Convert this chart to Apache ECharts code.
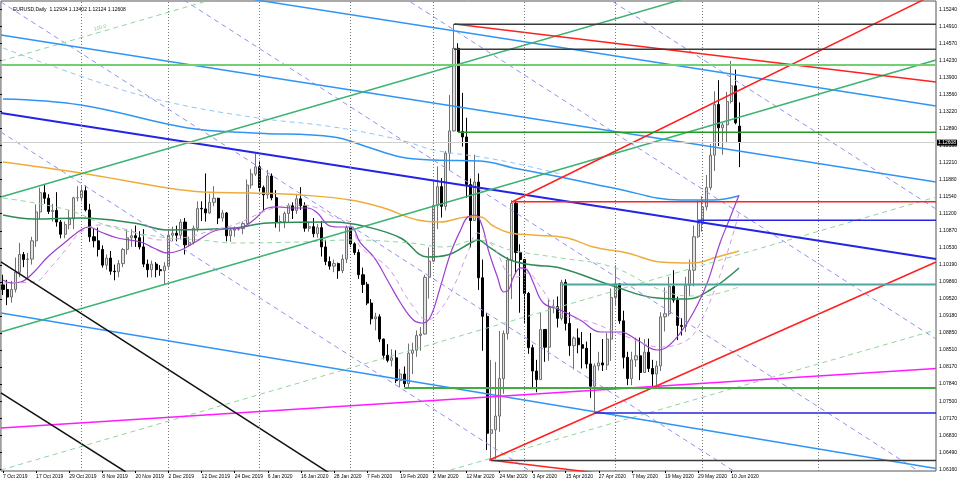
<!DOCTYPE html>
<html><head><meta charset="utf-8">
<script src="https://cdn.jsdelivr.net/npm/echarts@6/dist/echarts.min.js"></script>
<style>html,body{margin:0;padding:0;background:#fff}#c{width:960px;height:482px}</style>
</head><body><div id="c"></div>
<script>
// ---------- data ----------
const titleText = 'EURUSD,Daily  1.12934 1.13402 1.12124 1.12608';
const dateTicks = ['7 Oct 2019','17 Oct 2019','29 Oct 2019','8 Nov 2019','20 Nov 2019','2 Dec 2019','12 Dec 2019','24 Dec 2019','6 Jan 2020','16 Jan 2020','28 Jan 2020','7 Feb 2020','19 Feb 2020','2 Mar 2020','12 Mar 2020','24 Mar 2020','3 Apr 2020','15 Apr 2020','27 Apr 2020','7 May 2020','19 May 2020','29 May 2020','10 Jun 2020'];
const priceTicks = ['1.06160','1.06490','1.06830','1.07170','1.07500','1.07840','1.08170','1.08510','1.08850','1.09180','1.09520','1.09860','1.10190','1.10530','1.10870','1.11200','1.11540','1.11880','1.12210','1.12550','1.12890','1.13220','1.13560','1.13900','1.14230','1.14570','1.14910','1.15240'];
const lastPrice = 1.12608;
// [open, high, low, close] per daily bar
const ohlc = [
[1.0980,1.1000,1.0960,1.0971],[1.0971,1.0990,1.0940,1.0956],[1.0956,1.0988,1.0945,1.0971],[1.0971,1.1034,1.0965,1.1005],[1.1005,1.1063,1.0995,1.1040],
[1.1040,1.1045,1.1015,1.1030],[1.1030,1.1043,1.0992,1.1031],[1.1031,1.1075,1.1020,1.1067],[1.1067,1.1139,1.1055,1.1124],[1.1124,1.1172,1.1110,1.1162],
[1.1162,1.1179,1.1140,1.1151],[1.1151,1.1159,1.1120,1.1125],[1.1125,1.1140,1.1105,1.1127],[1.1127,1.1163,1.1095,1.1104],[1.1104,1.1108,1.1072,1.1080],
[1.1080,1.1105,1.1072,1.1099],[1.1099,1.1128,1.1090,1.1110],[1.1110,1.1154,1.1090,1.1152],[1.1152,1.1175,1.1145,1.1152],[1.1152,1.1175,1.1145,1.1166],
[1.1166,1.1176,1.1125,1.1128],[1.1128,1.1140,1.1065,1.1075],[1.1075,1.1092,1.1054,1.1067],[1.1067,1.1093,1.1036,1.1050],[1.1050,1.1058,1.1014,1.1019],
[1.1019,1.1040,1.1010,1.1033],[1.1033,1.1047,1.1000,1.1007],[1.1007,1.1020,1.0989,1.1006],[1.1006,1.1029,1.0995,1.1022],[1.1022,1.1053,1.1015,1.1050],
[1.1050,1.1090,1.1040,1.1073],[1.1073,1.1090,1.1055,1.1077],[1.1077,1.1097,1.1055,1.1073],[1.1073,1.1086,1.1050,1.1055],[1.1055,1.1090,1.1015,1.1021],
[1.1021,1.1030,1.0995,1.1010],[1.1010,1.1028,1.0995,1.1021],[1.1021,1.1025,1.0995,1.1010],[1.1010,1.1019,1.0998,1.1008],[1.1008,1.1025,1.0981,1.1017],
[1.1017,1.1090,1.1012,1.1078],[1.1078,1.1095,1.1066,1.1082],[1.1082,1.1097,1.1066,1.1078],[1.1078,1.1110,1.1070,1.1104],[1.1104,1.1112,1.1040,1.1059],
[1.1059,1.1075,1.1055,1.1064],[1.1064,1.1097,1.1060,1.1092],[1.1092,1.1145,1.1085,1.1131],[1.1131,1.1145,1.1106,1.1130],[1.1130,1.1200,1.1105,1.1122],
[1.1122,1.1160,1.1120,1.1143],[1.1143,1.1175,1.1135,1.1151],[1.1151,1.1152,1.1100,1.1112],[1.1112,1.1128,1.1105,1.1122],[1.1122,1.1124,1.1066,1.1077],
[1.1077,1.1093,1.1065,1.1088],[1.1088,1.1095,1.1075,1.1090],[1.1090,1.1093,1.1087,1.1091],[1.1091,1.1105,1.1080,1.1101],[1.1101,1.1188,1.1100,1.1177],
[1.1177,1.1209,1.1170,1.1199],[1.1199,1.1239,1.1195,1.1213],[1.1213,1.1225,1.1164,1.1172],[1.1172,1.1176,1.1128,1.1158],[1.1158,1.1207,1.1150,1.1195],
[1.1195,1.1200,1.1147,1.1152],[1.1152,1.1167,1.1093,1.1104],[1.1104,1.1117,1.1085,1.1105],[1.1105,1.1125,1.1092,1.1121],[1.1121,1.1141,1.1103,1.1136],
[1.1136,1.1143,1.1110,1.1127],[1.1127,1.1160,1.1120,1.1150],[1.1150,1.1173,1.1128,1.1136],[1.1136,1.1143,1.1085,1.1092],[1.1092,1.1105,1.1085,1.1095],
[1.1095,1.1112,1.1074,1.1081],[1.1081,1.1100,1.1073,1.1093],[1.1093,1.1106,1.1036,1.1055],[1.1055,1.1069,1.1019,1.1026],[1.1026,1.1036,1.1010,1.1017],
[1.1017,1.1030,1.1005,1.1022],[1.1022,1.1024,1.0992,1.1008],[1.1008,1.1040,1.1003,1.1031],[1.1031,1.1097,1.1023,1.1093],[1.1093,1.1095,1.1055,1.1061],
[1.1061,1.1064,1.1039,1.1044],[1.1044,1.1050,1.0992,1.1000],[1.1000,1.1014,1.0964,1.0981],[1.0981,1.0986,1.0940,1.0944],[1.0944,1.0952,1.0902,1.0913],
[1.0913,1.0925,1.0890,1.0917],[1.0917,1.0922,1.0867,1.0873],[1.0873,1.0874,1.0833,1.0841],[1.0841,1.0863,1.0827,1.0831],[1.0831,1.0853,1.0819,1.0836],
[1.0836,1.0851,1.0786,1.0791],[1.0791,1.0814,1.0778,1.0804],[1.0804,1.0819,1.0778,1.0785],[1.0785,1.0864,1.0778,1.0845],[1.0845,1.0866,1.0804,1.0851],
[1.0851,1.0890,1.0838,1.0880],[1.0880,1.0897,1.0850,1.0883],[1.0883,1.1000,1.0882,1.0995],[1.0995,1.1054,1.0953,1.1027],[1.1027,1.1185,1.1025,1.1137],
[1.1137,1.1214,1.1090,1.1174],[1.1174,1.1191,1.1113,1.1135],[1.1135,1.1244,1.1127,1.1240],[1.1240,1.1355,1.1205,1.1284],[1.1284,1.1495,1.1283,1.1447],
[1.1447,1.1457,1.1283,1.1283],[1.1283,1.1359,1.1253,1.1272],[1.1272,1.1310,1.1152,1.1178],[1.1178,1.1190,1.1054,1.1107],[1.1107,1.1237,1.1107,1.1183],
[1.1183,1.1200,1.0970,1.0994],[1.0994,1.1030,1.0850,1.0918],[1.0918,1.0924,1.0654,1.0687],[1.0687,1.0832,1.0635,1.0694],[1.0694,1.0828,1.0636,1.0721],
[1.0721,1.0889,1.0690,1.0795],[1.0795,1.0890,1.0765,1.0884],[1.0884,1.1035,1.0872,1.1029],[1.1029,1.1147,1.0952,1.1141],[1.1141,1.1146,1.1003,1.1044],
[1.1044,1.1060,1.0925,1.1030],[1.1030,1.1030,1.0905,1.0963],[1.0963,1.0966,1.0844,1.0856],[1.0856,1.0862,1.0778,1.0810],[1.0810,1.0832,1.0768,1.0793],
[1.0793,1.0925,1.0792,1.0892],[1.0892,1.0892,1.0828,1.0857],[1.0857,1.0952,1.0830,1.0935],[1.0935,1.0951,1.0924,1.0937],[1.0937,1.0957,1.0896,1.0914],
[1.0914,1.0990,1.0910,1.0985],[1.0985,1.0991,1.0890,1.0904],[1.0904,1.0926,1.0840,1.0860],[1.0860,1.0878,1.0813,1.0875],[1.0875,1.0894,1.0845,1.0862],
[1.0862,1.0887,1.0815,1.0855],[1.0855,1.0868,1.0815,1.0824],[1.0824,1.0885,1.0757,1.0780],[1.0780,1.0825,1.0727,1.0820],[1.0820,1.0848,1.0811,1.0826],
[1.0826,1.0873,1.0810,1.0822],[1.0822,1.0885,1.0812,1.0873],[1.0873,1.0973,1.0830,1.0955],[1.0955,1.1019,1.0938,1.0982],[1.0982,1.0983,1.0903,1.0909],
[1.0909,1.0929,1.0815,1.0837],[1.0837,1.0848,1.0782,1.0795],[1.0795,1.0848,1.0782,1.0832],[1.0832,1.0876,1.0818,1.0840],[1.0840,1.0876,1.0792,1.0807],
[1.0807,1.0873,1.0806,1.0847],[1.0847,1.0874,1.0808,1.0815],[1.0815,1.0832,1.0775,1.0804],[1.0804,1.0830,1.0775,1.0820],[1.0820,1.0926,1.0810,1.0917],
[1.0917,1.0975,1.0888,1.0923],[1.0923,1.0996,1.0918,1.0977],[1.0977,1.1009,1.0945,1.0950],[1.0950,1.0957,1.0871,1.0900],[1.0900,1.0914,1.0880,1.0898],
[1.0898,1.0996,1.0887,1.0979],[1.0979,1.1030,1.0958,1.1009],[1.1009,1.1097,1.0977,1.1075],[1.1075,1.1147,1.1073,1.1101],[1.1101,1.1155,1.1085,1.1134],
[1.1134,1.1197,1.1127,1.1172],[1.1172,1.1258,1.1167,1.1236],[1.1236,1.1362,1.1205,1.1336],[1.1336,1.1384,1.1254,1.1290],[1.1290,1.1300,1.1237,1.1296],
[1.1296,1.1361,1.1260,1.1342],[1.1342,1.1422,1.1338,1.1373],[1.1373,1.1405,1.1297,1.1300],[1.12934,1.13402,1.12124,1.12608]
];
// bar indices where a new month starts (dotted grid)
const monthStarts = [19,40,62,84,104,126,148,169,197];

// indicator curves: [bar index, price]
const maOrange = [[0,1.12226],[18.8,1.12009],[39.8,1.11713],[48.5,1.11634],[59.9,1.11614],[71.9,1.11575],[84,1.11476],[92,1.11318],[100.2,1.11081],[105.7,1.11042],[112.3,1.11141],[115.4,1.11141],[118.5,1.10963],[122.6,1.10825],[128.2,1.10785],[136.4,1.10726],[142.7,1.10548],[150.9,1.1043],[158.9,1.10252],[166.8,1.10232],[172.6,1.10351],[177.9,1.10469]];
const maDarkGreen = [[0,1.1118],[7.5,1.11101],[18.8,1.11121],[31.6,1.11022],[39.8,1.10884],[55.8,1.10923],[64,1.11022],[79.9,1.11042],[88.1,1.10943],[96.1,1.10726],[102.6,1.10351],[107.4,1.1039],[113,1.10627],[114.7,1.10686],[117.8,1.10529],[122.6,1.10292],[128.2,1.10193],[134.7,1.10134],[146.8,1.09798],[158.1,1.09541],[165.4,1.09522],[170.9,1.09699],[177.9,1.10134]];
const maGreenDash = [[0,1.11515],[15.7,1.11279],[26.1,1.10943],[38.1,1.10746],[47.8,1.10686],[55.8,1.10627],[71.9,1.10647],[84,1.10686],[98.5,1.10627],[106.5,1.10548],[114.7,1.10686],[122.6,1.10489],[134.7,1.10331],[147.3,1.10153],[158.9,1.09699],[166.1,1.09581],[170.9,1.09601],[177.9,1.09759]];
const maBlue = [[0,1.1347],[18.8,1.13351],[44.7,1.12897],[60.6,1.12799],[79.9,1.1272],[88.1,1.12522],[96.1,1.12325],[104.1,1.12266],[115.4,1.12246],[123.4,1.12108],[134.7,1.1193],[147.5,1.11713],[163.7,1.11476],[171.7,1.11476],[177.7,1.11555]];
const maBlueDash = [[0,1.14477],[23.6,1.13786],[39.8,1.13411],[61.6,1.13095],[79.9,1.12917],[96.1,1.1266],[104.1,1.12463],[115.4,1.12325],[123.4,1.12206],[134.7,1.11989]];
const maPurple = [[0,1.09897],[1.9,1.09838],[4.3,1.09857],[7.5,1.10055],[10.8,1.10351],[15.7,1.10686],[18.8,1.10884],[20.7,1.10943],[23.6,1.10844],[27.7,1.10726],[33.3,1.10647],[36.4,1.10528],[39.8,1.1043],[43,1.10489],[46.1,1.10627],[51.9,1.10884],[57.4,1.10923],[60.6,1.11081],[64,1.11318],[66.4,1.11338],[70.2,1.11318],[73.6,1.11318],[76,1.11219],[78.5,1.10983],[80.9,1.10943],[84,1.10943],[86.4,1.10627],[89.6,1.10351],[92.9,1.09897],[96.1,1.09443],[99.2,1.09107],[101.4,1.09048],[103.3,1.09166],[105.7,1.09759],[108.2,1.1043],[110.6,1.10884],[112.3,1.11141],[114.2,1.1118],[115.9,1.10943],[117.3,1.10489],[119.5,1.09956],[121,1.0966],[122.2,1.09699],[123.4,1.09956],[125.1,1.10134],[126.7,1.10094],[128.2,1.09838],[130.6,1.09443],[134.7,1.09305],[139.5,1.09107],[144.4,1.0887],[149.2,1.0887],[153.3,1.08712],[158.1,1.08515],[160.5,1.08574],[163.7,1.08851],[166.8,1.09245],[170.2,1.09838],[173.3,1.10627],[175.8,1.11141],[177.9,1.11575]];
const maPurpleDash = [[0,1.09838],[7.5,1.09857],[11.6,1.10153],[15.7,1.10548],[18.8,1.10844],[23.6,1.10983],[30.2,1.10884],[38.1,1.10686],[44.7,1.10746],[50.9,1.10884],[55.8,1.10983],[62.3,1.11219],[66.4,1.11338],[71.9,1.11377],[76,1.11318],[79.9,1.11141],[84,1.11022],[86.4,1.10548],[92.9,1.10153],[98.5,1.09443],[102.6,1.09107],[105.7,1.09305],[108.9,1.09759],[112.3,1.1043],[114.7,1.10825],[117.1,1.10686],[119.5,1.1043],[121.9,1.10035],[124.3,1.09956],[126.7,1.10035],[129.9,1.09759],[134.7,1.09245],[142.7,1.09048],[150.9,1.08772],[158.9,1.08574],[165.4,1.08712],[168.5,1.09048],[172.6,1.09838],[175.8,1.10627],[177.9,1.11219]];

// drawn objects: [bar index, price] end points
const blueA = [[-0.5,1.14733],[225.5,1.11831]];
const blueB = [[57.45,1.15473],[225.5,1.13332]];
const blueC = [[-0.5,1.09245],[225.5,1.06176]];
const darkBlue = [[-0.5,1.13193],[225.5,1.10311]];
const greenUp = [[-0.5,1.11535],[168.5,1.15539]];
const greenLow = [[-0.5,1.0887],[225.5,1.1424]];
const fibTop = [[-0.5,1.1422],[51.41,1.15454]];
const fibMid = [[-0.5,1.06146],[225.5,1.11535]];
const fibLow = [[108.15,1.06146],[225.5,1.0891]];
const fibLabelAt = [[23.65,1.14792]];
const hLightGreen = [[-0.5,1.14141],[225.5,1.14141]];
const hBlackTop = [[109,1.14944],[225.5,1.14944]];
const hBlack2 = [[109,1.14451],[225.5,1.14451]];
const hDarkGreen = [[110,1.12812],[225.5,1.12812]];
const hRed = [[123,1.11442],[225.5,1.11442]];
const hBlue = [[168,1.11075],[225.5,1.11075]];
const hTeal = [[135,1.09808],[225.5,1.09808]];
const hGreen = [[97,1.07765],[225.5,1.07765]];
const hBlueLow = [[143,1.07271],[225.5,1.07271]];
const hBlackLow = [[118,1.06334],[225.5,1.06334]];
const redTop = [[109.12,1.1495],[225.5,1.13805]];
const redLow = [[117.57,1.06344],[144.4,1.06079]];
const redRise1 = [[117.57,1.06344],[225.5,1.10252]];
const redRise2 = [[123.12,1.11442],[222.84,1.15444]];
const magentaLine = [[-0.5,1.06975],[225.5,1.0815]];
const black1 = [[-0.5,1.10252],[79.18,1.06069]];
const black2 = [[-0.5,1.07666],[29.68,1.06107]];
const dash1 = [[-0.5,1.15385],[176.97,1.06107]];
const dash2 = [[-0.5,1.12818],[127.0,1.06146]];
const dash3 = [[43.7,1.15424],[221.6,1.06107]];
const dash4 = [[98.49,1.15385],[225.5,1.08732]];
const dash5 = [[147.5,1.15385],[225.5,1.11298]];

// ---------- chart ----------
const nSlots = 226;
const yMin = 1.06126, yMax = 1.15404;
const FONT = 'Liberation Sans, Arial, sans-serif';
const cats = Array.from({length: nSlots}, (_, i) => String(i));
const isTick = i => i % 8 === 0 && i / 8 < dateTicks.length;

function ln(data, color, width, type, smooth, z) {
  return {type: 'line', xAxisIndex: 1, yAxisIndex: 0, data: data, symbol: 'none', showSymbol: false,
    silent: true, smooth: smooth || false, z: z || 3,
    lineStyle: {color: color, width: width, type: type || 'solid'}};
}
const DASH = [5, 4];

const chart = echarts.init(document.getElementById('c'), null, {renderer: 'canvas'});
chart.setOption({
  animation: false,
  backgroundColor: '#ffffff',
  title: {text: titleText, left: 8, top: 2, textStyle: {fontSize: 5, fontWeight: 'normal', color: '#000', fontFamily: FONT}},
  grid: [
    {left: 0, right: 24, top: 1, bottom: 11, show: true, borderColor: '#555', borderWidth: 1, backgroundColor: 'transparent'},
    {left: 0, right: 24, top: 9.3, bottom: 12.7, show: false}
  ],
  xAxis: [
    {type: 'category', gridIndex: 0, data: cats, boundaryGap: true,
      axisLine: {show: false},
      axisTick: {show: true, alignWithLabel: true, interval: (i) => isTick(i), length: 2, lineStyle: {color: '#000'}},
      axisLabel: {interval: (i) => isTick(i), formatter: (v, i) => isTick(i) ? dateTicks[i / 8] : '',
        align: 'left', fontSize: 5, color: '#000', margin: 3, fontFamily: FONT},
      splitLine: {show: false}},
    {type: 'value', gridIndex: 0, min: -0.5, max: nSlots - 0.5, show: false},
    {type: 'value', gridIndex: 1, min: 0, max: 1, show: false}
  ],
  yAxis: [
    {type: 'value', gridIndex: 0, min: yMin, max: yMax, show: false, splitLine: {show: false}},
    {type: 'value', gridIndex: 1, min: 0, max: priceTicks.length - 1, interval: 1, position: 'right',
      axisLine: {show: false},
      axisTick: {show: true, length: 2, lineStyle: {color: '#000'}},
      axisLabel: {formatter: (v) => priceTicks[Math.round(v)] || '', fontSize: 5, color: '#000', margin: 3, fontFamily: FONT},
      splitLine: {show: false}}
  ],
  series: [
    // month grid + current price line
    {type: 'line', xAxisIndex: 1, yAxisIndex: 0, data: [[0, yMin]], symbol: 'none', lineStyle: {opacity: 0}, silent: true, z: 1,
      markLine: {symbol: 'none', silent: true, precision: 5, label: {show: false},
        lineStyle: {color: '#777', width: 1, type: [1, 2]},
        data: monthStarts.map(m => ({xAxis: m}))}},
    {type: 'line', xAxisIndex: 1, yAxisIndex: 0, data: [[0, lastPrice]], symbol: 'none', lineStyle: {opacity: 0}, silent: true, z: 6,
      markLine: {symbol: 'none', silent: true, precision: 5,
        lineStyle: {color: '#cfcfcf', width: 1, type: 'solid'},
        label: {show: true, position: 'end', formatter: () => lastPrice.toFixed(5), color: '#fff', backgroundColor: '#000',
          padding: [1, 1, 0, 1], fontSize: 5, distance: 1, fontFamily: FONT},
        data: [{yAxis: lastPrice}]}},
    {type: 'candlestick', xAxisIndex: 0, yAxisIndex: 0, barWidth: 2.6, z: 2,
      data: ohlc.map(r => [r[0], r[3], r[2], r[1]]),
      itemStyle: {color: '#e2e2e2', color0: '#000000', borderColor: '#707070', borderColor0: '#000000', borderWidth: 1}},
    // moving averages
    ln(maOrange, '#efac3c', 1.5, 'solid', 0.4),
    ln(maDarkGreen, '#2e8b57', 1.5, 'solid', 0.4),
    ln(maGreenDash, '#93d6a5', 1, DASH, 0.4),
    ln(maBlue, '#2f95f5', 1.5, 'solid', 0.4),
    ln(maBlueDash, '#8ec6f7', 1, DASH, 0.4),
    ln(maPurple, '#9c3fcf', 1.2, 'solid', 0.4),
    ln(maPurpleDash, '#d39be6', 1, DASH, 0.4),
    // dashed diagonal lines
    ln(dash1, '#9090f0', 1, DASH), ln(dash2, '#9090f0', 1, DASH), ln(dash3, '#9090f0', 1, DASH),
    ln(dash4, '#9090f0', 1, DASH), ln(dash5, '#9090f0', 1, DASH),
    ln(fibTop, '#8fd4a0', 1, DASH), ln(fibMid, '#8fd4a0', 1, DASH), ln(fibLow, '#8fd4a0', 1, DASH),
    {type: 'scatter', xAxisIndex: 1, yAxisIndex: 0, data: fibLabelAt, symbolSize: 0, silent: true, z: 3,
      label: {show: true, formatter: '100.0', position: 'top', distance: 2, rotate: 16, color: '#5cb870', fontSize: 5, fontFamily: FONT}},
    // trend lines
    ln(blueA, '#2f95f5', 1.5), ln(blueB, '#2f95f5', 1.5), ln(blueC, '#2f95f5', 1.5),
    ln(darkBlue, '#2424e6', 2),
    ln(greenUp, '#3cb371', 1.5), ln(greenLow, '#3cb371', 1.5),
    ln(magentaLine, '#ff1aff', 1.5),
    ln(black1, '#111', 1.5), ln(black2, '#111', 1.5),
    ln(redTop, '#ff2020', 1.5), ln(redLow, '#ff2020', 1.5), ln(redRise1, '#ff2020', 1.5), ln(redRise2, '#ff2020', 1.5),
    // horizontal levels
    ln(hLightGreen, '#72d072', 2), ln(hBlackTop, '#3a3a3a', 1.5), ln(hBlack2, '#3a3a3a', 1.5),
    ln(hDarkGreen, '#229a22', 1.5), ln(hRed, '#ff2020', 1.5), ln(hBlue, '#2424e6', 1.5),
    ln(hTeal, '#4aa8a4', 2), ln(hGreen, '#3fae3f', 2), ln(hBlueLow, '#2424e0', 1.5), ln(hBlackLow, '#3a3a3a', 1.5)
  ]
});
</script>
</body></html>
